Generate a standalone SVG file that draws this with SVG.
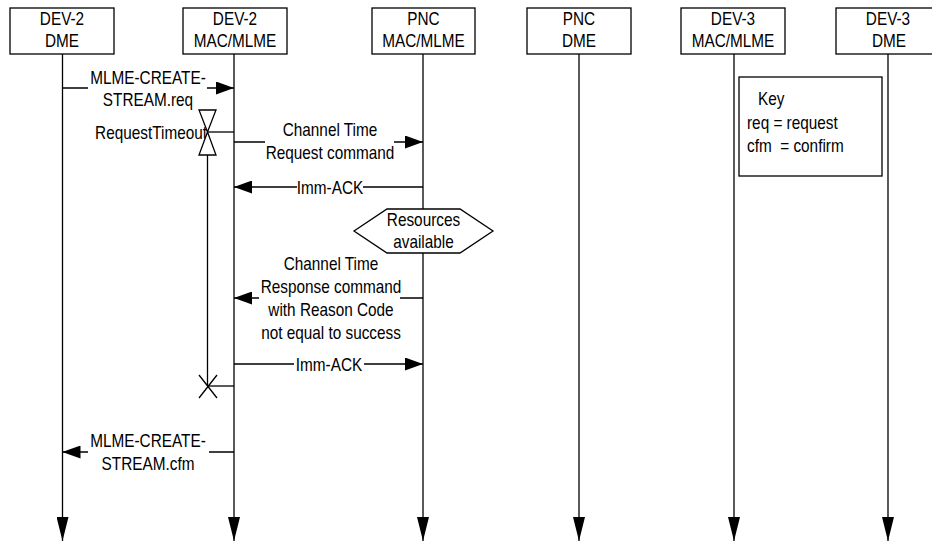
<svg xmlns="http://www.w3.org/2000/svg" width="932" height="542" viewBox="0 0 932 542">
<style>
.t{font-family:"Liberation Sans",Arial,sans-serif;font-size:18.7px;fill:#000;text-anchor:middle}
.s{text-anchor:start}
.e{text-anchor:end}
.box{fill:#fff;stroke:#000;stroke-width:1.3}
.ln{fill:none;stroke:#000;stroke-width:1.3}
.msg{fill:none;stroke:#000;stroke-width:1.3;marker-end:url(#ah)}
.life{fill:none;stroke:#000;stroke-width:1.3;marker-end:url(#lh)}
</style>
<defs>
<marker id="ah" markerUnits="userSpaceOnUse" viewBox="0 0 18 13" refX="18" refY="6.5" markerWidth="18" markerHeight="13" orient="auto"><path d="M0,0 L18,6.5 L0,13 z" fill="#000"/></marker>
<marker id="lh" markerUnits="userSpaceOnUse" viewBox="0 0 24 12" refX="24" refY="6" markerWidth="24" markerHeight="12" orient="auto"><path d="M0,0 L24,6 L0,12 z" fill="#000"/></marker>
</defs>
<rect width="932" height="542" fill="#fff"/>
<g id="connectors">
<path class="life" d="M62.5,54 V541"/>
<path class="life" d="M234,54 V541"/>
<path class="life" d="M423,54 V541"/>
<path class="life" d="M579,54 V541"/>
<path class="life" d="M734,54 V541"/>
<path class="life" d="M888,54 V541"/>
<path class="msg" d="M62.5,88 H88 M207,88 H234"/>
<path class="ln" d="M207.5,132 H234"/>
<path class="msg" d="M234,142 H265 M394,142 H423"/>
<path class="msg" d="M423,187 H363 M297,187 H234"/>
<path class="msg" d="M423,298 H400 M259,298 H234"/>
<path class="msg" d="M234,364 H294 M364,364 H423"/>
<path class="ln" d="M208,386 H234"/>
<path class="msg" d="M234,452 H209 M88,452 H62.5"/>
<text class="t" transform="translate(148,84) scale(0.82,1)">MLME-CREATE-</text>
<text class="t" transform="translate(148,106) scale(0.82,1)">STREAM.req</text>
<text class="t e" transform="translate(207,139) scale(0.82,1)">RequestTimeout</text>
<text class="t" transform="translate(330,136) scale(0.82,1)">Channel Time</text>
<text class="t" transform="translate(330,159) scale(0.82,1)">Request command</text>
<text class="t" transform="translate(330,193.5) scale(0.82,1)">Imm-ACK</text>
<text class="t" transform="translate(331,270) scale(0.82,1)">Channel Time</text>
<text class="t" transform="translate(331,293) scale(0.82,1)">Response command</text>
<text class="t" transform="translate(331,316) scale(0.82,1)">with Reason Code</text>
<text class="t" transform="translate(331,339) scale(0.82,1)">not equal to success</text>
<text class="t" transform="translate(329,370.5) scale(0.82,1)">Imm-ACK</text>
<text class="t" transform="translate(148,447) scale(0.82,1)">MLME-CREATE-</text>
<text class="t" transform="translate(148,470) scale(0.82,1)">STREAM.cfm</text>
</g>
<g id="timer">
<path class="box" d="M199,110 H216 L207.5,132 Z M207.5,132 L216,155 H199 Z"/>
<path class="ln" d="M207.5,155 V386 M199,375 L217,398 M217,375 L199,398"/>
</g>
<g id="dev2-dme"><rect class="box" x="10" y="8" width="104" height="46"/><text class="t" transform="translate(62,25) scale(0.82,1)">DEV-2</text><text class="t" transform="translate(62,47) scale(0.82,1)">DME</text></g>
<g id="dev2-mac"><rect class="box" x="183" y="8" width="104" height="46"/><text class="t" transform="translate(235,25) scale(0.82,1)">DEV-2</text><text class="t" transform="translate(235,47) scale(0.82,1)">MAC/MLME</text></g>
<g id="pnc-mac"><rect class="box" x="372" y="8" width="103" height="46"/><text class="t" transform="translate(423.5,25) scale(0.82,1)">PNC</text><text class="t" transform="translate(423.5,47) scale(0.82,1)">MAC/MLME</text></g>
<g id="pnc-dme"><rect class="box" x="527" y="8" width="104" height="46"/><text class="t" transform="translate(579,25) scale(0.82,1)">PNC</text><text class="t" transform="translate(579,47) scale(0.82,1)">DME</text></g>
<g id="dev3-mac"><rect class="box" x="681" y="8" width="104" height="46"/><text class="t" transform="translate(733,25) scale(0.82,1)">DEV-3</text><text class="t" transform="translate(733,47) scale(0.82,1)">MAC/MLME</text></g>
<g id="dev3-dme"><rect class="box" x="836" y="8" width="104" height="46"/><text class="t" transform="translate(888,25) scale(0.82,1)">DEV-3</text><text class="t" transform="translate(889,47) scale(0.82,1)">DME</text></g>
<g id="resources"><polygon class="box" points="354,231 387,209 460,209 493,231 460,253 387,253"/><text class="t" transform="translate(423.5,225.5) scale(0.82,1)">Resources</text><text class="t" transform="translate(423.5,247.5) scale(0.82,1)">available</text></g>
<g id="key"><rect class="box" x="739" y="77" width="143" height="99"/><text class="t s" transform="translate(758,105) scale(0.82,1)">Key</text><text class="t s" transform="translate(747,129) scale(0.82,1)">req = request</text><text class="t s" transform="translate(747,152) scale(0.82,1)" xml:space="preserve">cfm  = confirm</text></g>
</svg>
